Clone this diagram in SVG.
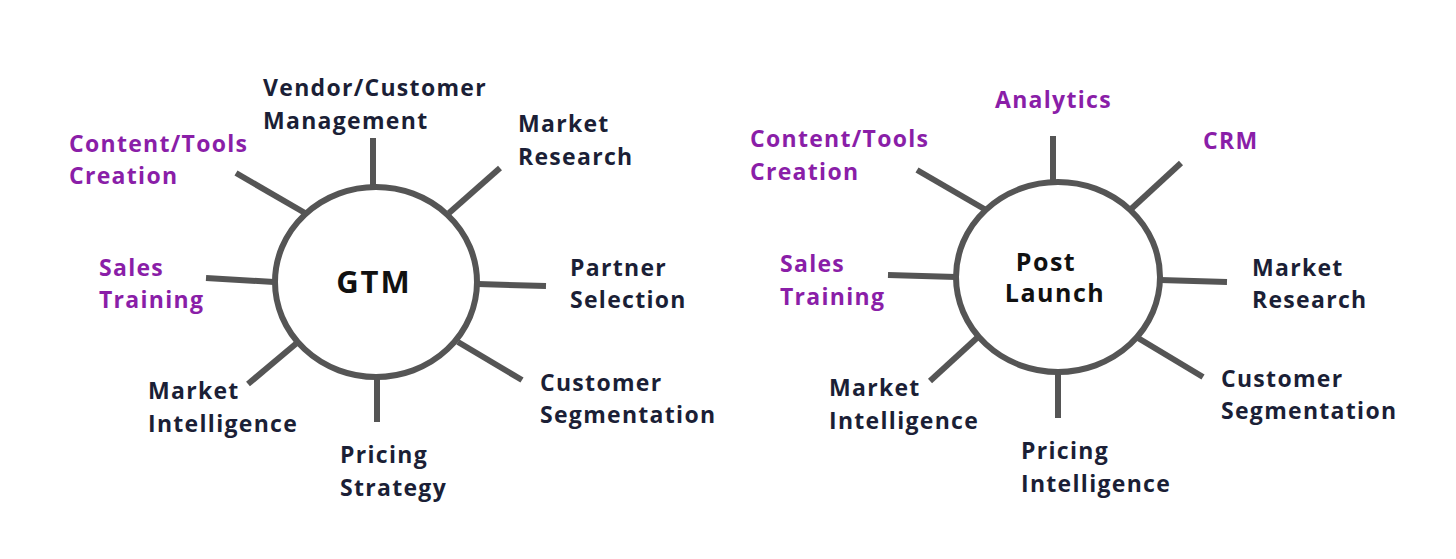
<svg xmlns="http://www.w3.org/2000/svg" width="1456" height="559" viewBox="0 0 1456 559">
<style>
.hub{fill:#fff;stroke:#555;stroke-width:6}
.sp{stroke:#555;stroke-width:6;fill:none}
.t{font-family:"Open Sans","DejaVu Sans",sans-serif;font-weight:700;font-size:23px;letter-spacing:1.3px;fill:#1b1f36}
.p{fill:#8a1ea8}
.c{font-family:"Open Sans","DejaVu Sans",sans-serif;font-weight:700;fill:#111;text-anchor:middle}
</style>
<rect width="1456" height="559" fill="#fff"/>
<g id="connectors">
<line class="sp" x1="373" y1="188" x2="373" y2="138"/>
<line class="sp" x1="449" y1="213" x2="500" y2="168"/>
<line class="sp" x1="478" y1="284" x2="546" y2="286"/>
<line class="sp" x1="458" y1="342" x2="522" y2="380"/>
<line class="sp" x1="377" y1="376" x2="377" y2="422"/>
<line class="sp" x1="298" y1="342" x2="248" y2="384"/>
<line class="sp" x1="274" y1="282" x2="206" y2="278"/>
<line class="sp" x1="305" y1="213" x2="236" y2="173"/>
<line class="sp" x1="1053" y1="183" x2="1053" y2="136"/>
<line class="sp" x1="1130" y1="210" x2="1181" y2="163"/>
<line class="sp" x1="1160" y1="280" x2="1227" y2="282"/>
<line class="sp" x1="1138" y1="338" x2="1203" y2="377"/>
<line class="sp" x1="1058" y1="372" x2="1058" y2="418"/>
<line class="sp" x1="978" y1="337" x2="930" y2="381"/>
<line class="sp" x1="956" y1="277" x2="888" y2="275"/>
<line class="sp" x1="986" y1="210" x2="917" y2="170"/>
</g>
<g id="gtm">
<ellipse class="hub" cx="376" cy="282" rx="101" ry="95"/>
<text class="c" x="374" y="293" font-size="31" letter-spacing="2">GTM</text>
</g>
<g id="post-launch">
<ellipse class="hub" cx="1058" cy="277" rx="102" ry="95"/>
<text class="c" x="1046" y="271" font-size="25" letter-spacing="1.5">Post</text>
<text class="c" x="1055" y="302" font-size="25" letter-spacing="1.5">Launch</text>
</g>
<g id="gtm-vendor"><text class="t" x="263" y="96">Vendor/Customer</text><text class="t" x="263" y="129">Management</text></g>
<g id="gtm-content"><text class="t p" x="69" y="152">Content/Tools</text><text class="t p" x="69" y="184">Creation</text></g>
<g id="gtm-market-research"><text class="t" x="518" y="132">Market</text><text class="t" x="518" y="165">Research</text></g>
<g id="gtm-sales"><text class="t p" x="99" y="276">Sales</text><text class="t p" x="99" y="308">Training</text></g>
<g id="gtm-partner"><text class="t" x="570" y="276">Partner</text><text class="t" x="570" y="308">Selection</text></g>
<g id="gtm-market-intel"><text class="t" x="148" y="399">Market</text><text class="t" x="148" y="432">Intelligence</text></g>
<g id="gtm-customer"><text class="t" x="540" y="391">Customer</text><text class="t" x="540" y="423">Segmentation</text></g>
<g id="gtm-pricing"><text class="t" x="340" y="463">Pricing</text><text class="t" x="340" y="496">Strategy</text></g>
<g id="pl-analytics"><text class="t p" x="995" y="108">Analytics</text></g>
<g id="pl-content"><text class="t p" x="750" y="147">Content/Tools</text><text class="t p" x="750" y="180">Creation</text></g>
<g id="pl-crm"><text class="t p" x="1203" y="149">CRM</text></g>
<g id="pl-sales"><text class="t p" x="780" y="272">Sales</text><text class="t p" x="780" y="305">Training</text></g>
<g id="pl-market-research"><text class="t" x="1252" y="276">Market</text><text class="t" x="1252" y="308">Research</text></g>
<g id="pl-market-intel"><text class="t" x="829" y="396">Market</text><text class="t" x="829" y="429">Intelligence</text></g>
<g id="pl-customer"><text class="t" x="1221" y="387">Customer</text><text class="t" x="1221" y="419">Segmentation</text></g>
<g id="pl-pricing"><text class="t" x="1021" y="459">Pricing</text><text class="t" x="1021" y="492">Intelligence</text></g>
</svg>
